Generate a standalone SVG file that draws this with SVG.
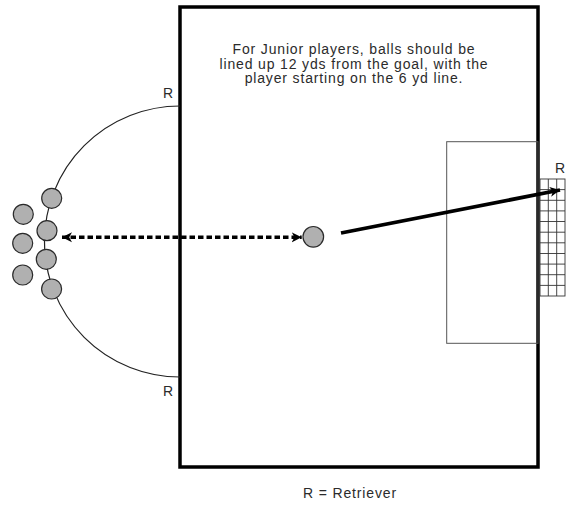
<svg xmlns="http://www.w3.org/2000/svg" width="566" height="508" viewBox="0 0 566 508">
<style>
.txt{font-family:"Liberation Sans",Arial,sans-serif;font-size:14px;fill:#2b2b2b;letter-spacing:0.85px}
.ball{fill:#b0b0b0;stroke:#2a2a2a;stroke-width:1.2}
.net{stroke:#333;stroke-width:0.9;fill:none}
</style>
<defs>
<marker id="ah" markerUnits="userSpaceOnUse" markerWidth="13" markerHeight="13" refX="10" refY="5.5" orient="auto-start-reverse" viewBox="0 0 13 11">
<path d="M0,0.5 L10,5.5 L0,10.5 L2.8,5.5 z" fill="#000"/>
</marker>
</defs>
<g id="field">
<rect x="180" y="7" width="358" height="460" fill="#fff" stroke="#000" stroke-width="3.5"/>
</g>
<g id="goal-box">
<rect x="446.7" y="141.7" width="91.3" height="201.6" fill="none" stroke="#555" stroke-width="1"/>
</g>
<g id="net">
<rect x="540" y="179" width="25" height="117" class="net"/>
<path class="net" d="M548.3,179V296M556.7,179V296M540,189.6H565M540,200.3H565M540,210.9H565M540,221.5H565M540,232.2H565M540,242.8H565M540,253.5H565M540,264.1H565M540,274.7H565M540,285.4H565"/>
</g>
<g id="arc">
<path d="M180,106 A135.5,135.5 0 0 0 180,377" fill="none" stroke="#222" stroke-width="1.2"/>
</g>
<g id="balls">
<circle class="ball" cx="51.7" cy="198.3" r="10"/>
<circle class="ball" cx="47" cy="230.7" r="10"/>
<circle class="ball" cx="46.3" cy="259.3" r="10"/>
<circle class="ball" cx="51.6" cy="289" r="10"/>
<circle class="ball" cx="23.3" cy="214.3" r="10"/>
<circle class="ball" cx="22.7" cy="243.3" r="10"/>
<circle class="ball" cx="22.7" cy="275" r="10"/>
</g>
<g id="player">
<circle class="ball" cx="313.3" cy="236.8" r="10.3"/>
</g>
<g id="connectors">
<line x1="62" y1="237.3" x2="301.7" y2="237.3" stroke="#000" stroke-width="3.6" stroke-dasharray="5.5 3" marker-start="url(#ah)" marker-end="url(#ah)"/>
<line x1="341" y1="233" x2="560" y2="190" stroke="#000" stroke-width="3.8" marker-end="url(#ah)"/>
</g>
<g id="labels">
<text class="txt" x="354" y="54" text-anchor="middle">For Junior players, balls should be</text>
<text class="txt" x="354" y="68.6" text-anchor="middle">lined up 12 yds from the goal, with the</text>
<text class="txt" x="354" y="83.2" text-anchor="middle">player starting on the 6 yd line.</text>
<text class="txt" x="163" y="98">R</text>
<text class="txt" x="163" y="396">R</text>
<text class="txt" x="555" y="173">R</text>
<text class="txt" x="350" y="498" text-anchor="middle">R = Retriever</text>
</g>
</svg>
